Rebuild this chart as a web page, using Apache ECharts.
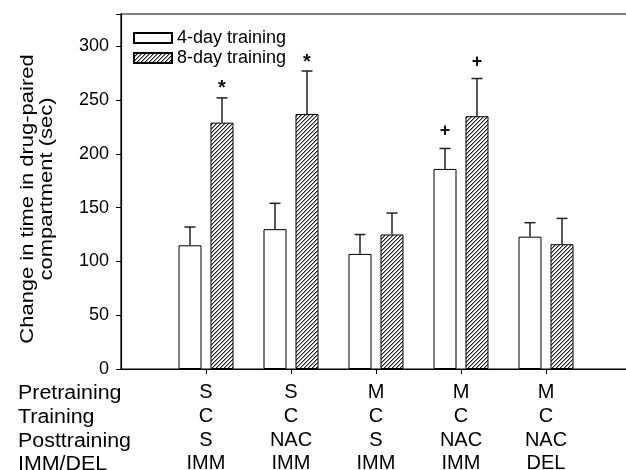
<!DOCTYPE html>
<html><head><meta charset="utf-8">
<script src="https://cdn.jsdelivr.net/npm/echarts@6/dist/echarts.min.js"></script>
<style>html,body{margin:0;padding:0;background:#fff;overflow:hidden}#c{width:626px;height:470px}</style>
</head><body><div id="c"></div>
<script>
var categories = ['', 'S\nC\nS\nIMM', 'S\nC\nNAC\nIMM', 'M\nC\nS\nIMM', 'M\nC\nNAC\nIMM', 'M\nC\nNAC\nDEL', ''];
var rowTitles = ['Pretraining', 'Training', 'Posttraining', 'IMM/DEL'];
var mean4 = [115, 130, 107, 186, 123];
var err4 = [17, 24, 18, 19, 13];
var mean8 = [229, 237, 125, 235, 116];
var err8 = [23, 40, 20, 35, 24];
var marks4 = ['', '', '', '+', ''];
var marks8 = ['*', '*', '', '+', ''];
var seriesNames = ['4-day training', '8-day training'];
var yTicks = [0, 50, 100, 150, 200, 250, 300];
var yTitleLines = ['Change in time in drug-paired', 'compartment (sec)'];

var FONT = 'Liberation Sans, Arial, sans-serif';

var pc = document.createElement('canvas');
pc.width = 4; pc.height = 4;
var g = pc.getContext('2d');
g.fillStyle = '#fff'; g.fillRect(0, 0, 4, 4);
for (var i = 0; i < 4; i++) {
  g.fillStyle = '#222'; g.fillRect(i, 3 - i, 1, 1);
  g.fillStyle = '#999'; g.fillRect(i, (4 - i) % 4, 1, 1);
}

function padded(arr) { return ['-'].concat(arr).concat(['-']); }
function errData(mean, err, marks) {
  return mean.map(function (m, i) { return [i + 1, m, m + err[i], marks[i]]; });
}
var errDataArr4 = errData(mean4, err4, marks4);
var errDataArr8 = errData(mean8, err8, marks8);

function errRender(offset, arr) {
  return function (params, api) {
    var idx = api.value(0);
    var p1 = api.coord([idx, api.value(1)]);
    var p2 = api.coord([idx, api.value(2)]);
    var x = p1[0] + offset;
    var mk = arr[params.dataIndex][3];
    var children = [
      { type: 'line', shape: { x1: x, y1: p1[1], x2: x, y2: p2[1] }, style: { stroke: '#222', lineWidth: 1.5 } },
      { type: 'line', shape: { x1: x - 5.5, y1: p2[1], x2: x + 5.5, y2: p2[1] }, style: { stroke: '#222', lineWidth: 1.5 } }
    ];
    if (mk) {
      var star = mk === '*';
      children.push({ type: 'text', style: { x: x, y: p2[1] - (star ? 9 : 17), text: mk, fill: '#111',
        font: 'bold ' + (star ? 20 : 18) + 'px ' + FONT, align: 'center', verticalAlign: 'middle' } });
    }
    return { type: 'group', children: children };
  };
}

var graphics = [];
var rowY = [393, 417, 441, 464.5];
rowTitles.forEach(function (t, i) {
  graphics.push({ type: 'text', x: 18, y: rowY[i], scaleX: 1.07,
    style: { x: 0, y: 0, text: t, font: '20px ' + FONT, fill: '#000', align: 'left', verticalAlign: 'middle' } });
});
var titlePos = [[28, 199], [47, 189]];
yTitleLines.forEach(function (t, i) {
  graphics.push({ type: 'text', x: titlePos[i][0], y: titlePos[i][1], rotation: Math.PI / 2, scaleX: 1.22,
    style: { x: 0, y: 0, text: t, font: '18px ' + FONT, fill: '#000', align: 'center', verticalAlign: 'middle' } });
});

var chart = echarts.init(document.getElementById('c'), null, { renderer: 'canvas' });
chart.setOption({
  animation: false,
  backgroundColor: '#fff',
  grid: { left: 121, right: -5, top: 14, bottom: 101, outerBoundsMode: 'none', containLabel: false,
    show: true, borderColor: '#000', borderWidth: 1.2, backgroundColor: 'transparent' },
  legend: {
    left: 128, top: 24, orient: 'vertical', itemWidth: 38, itemHeight: 10, itemGap: 2,
    icon: 'rect',
    textStyle: { fontFamily: FONT, fontSize: 18, color: '#000', lineHeight: 17 },
    data: seriesNames
  },
  xAxis: {
    type: 'category', data: categories, boundaryGap: false,
    axisLine: { lineStyle: { color: '#000', width: 1.2 } },
    axisTick: { show: true, length: 5, lineStyle: { color: '#000' }, interval: function (i) { return i > 0 && i < 6; } },
    axisLabel: { interval: 0, margin: 12, fontFamily: FONT, fontSize: 20, color: '#000', lineHeight: 23.7, align: 'center' },
    splitLine: { show: false }
  },
  yAxis: {
    type: 'value', min: 0, max: 330, interval: 50,
    axisLine: { show: true, lineStyle: { color: '#000', width: 1.2 } },
    axisTick: { show: true, length: 5, lineStyle: { color: '#000' } },
    axisLabel: { margin: 12, fontFamily: FONT, fontSize: 18, color: '#000', formatter: function (v) { return yTicks.indexOf(v) >= 0 ? String(v) : ''; } },
    splitLine: { show: false }
  },
  graphic: graphics,
  series: [
    { name: seriesNames[0], type: 'bar', data: padded(mean4), barWidth: 23, barGap: '39%',
      itemStyle: { color: '#fff', borderColor: '#000', borderWidth: 1 } },
    { name: seriesNames[1], type: 'bar', data: padded(mean8), barWidth: 23,
      itemStyle: { color: { image: pc, repeat: 'repeat' }, borderColor: '#000', borderWidth: 1 } },
    { type: 'custom', data: errDataArr4, renderItem: errRender(-16, errDataArr4), z: 5, silent: true },
    { type: 'custom', data: errDataArr8, renderItem: errRender(16, errDataArr8), z: 5, silent: true }
  ]
});
</script></body></html>
